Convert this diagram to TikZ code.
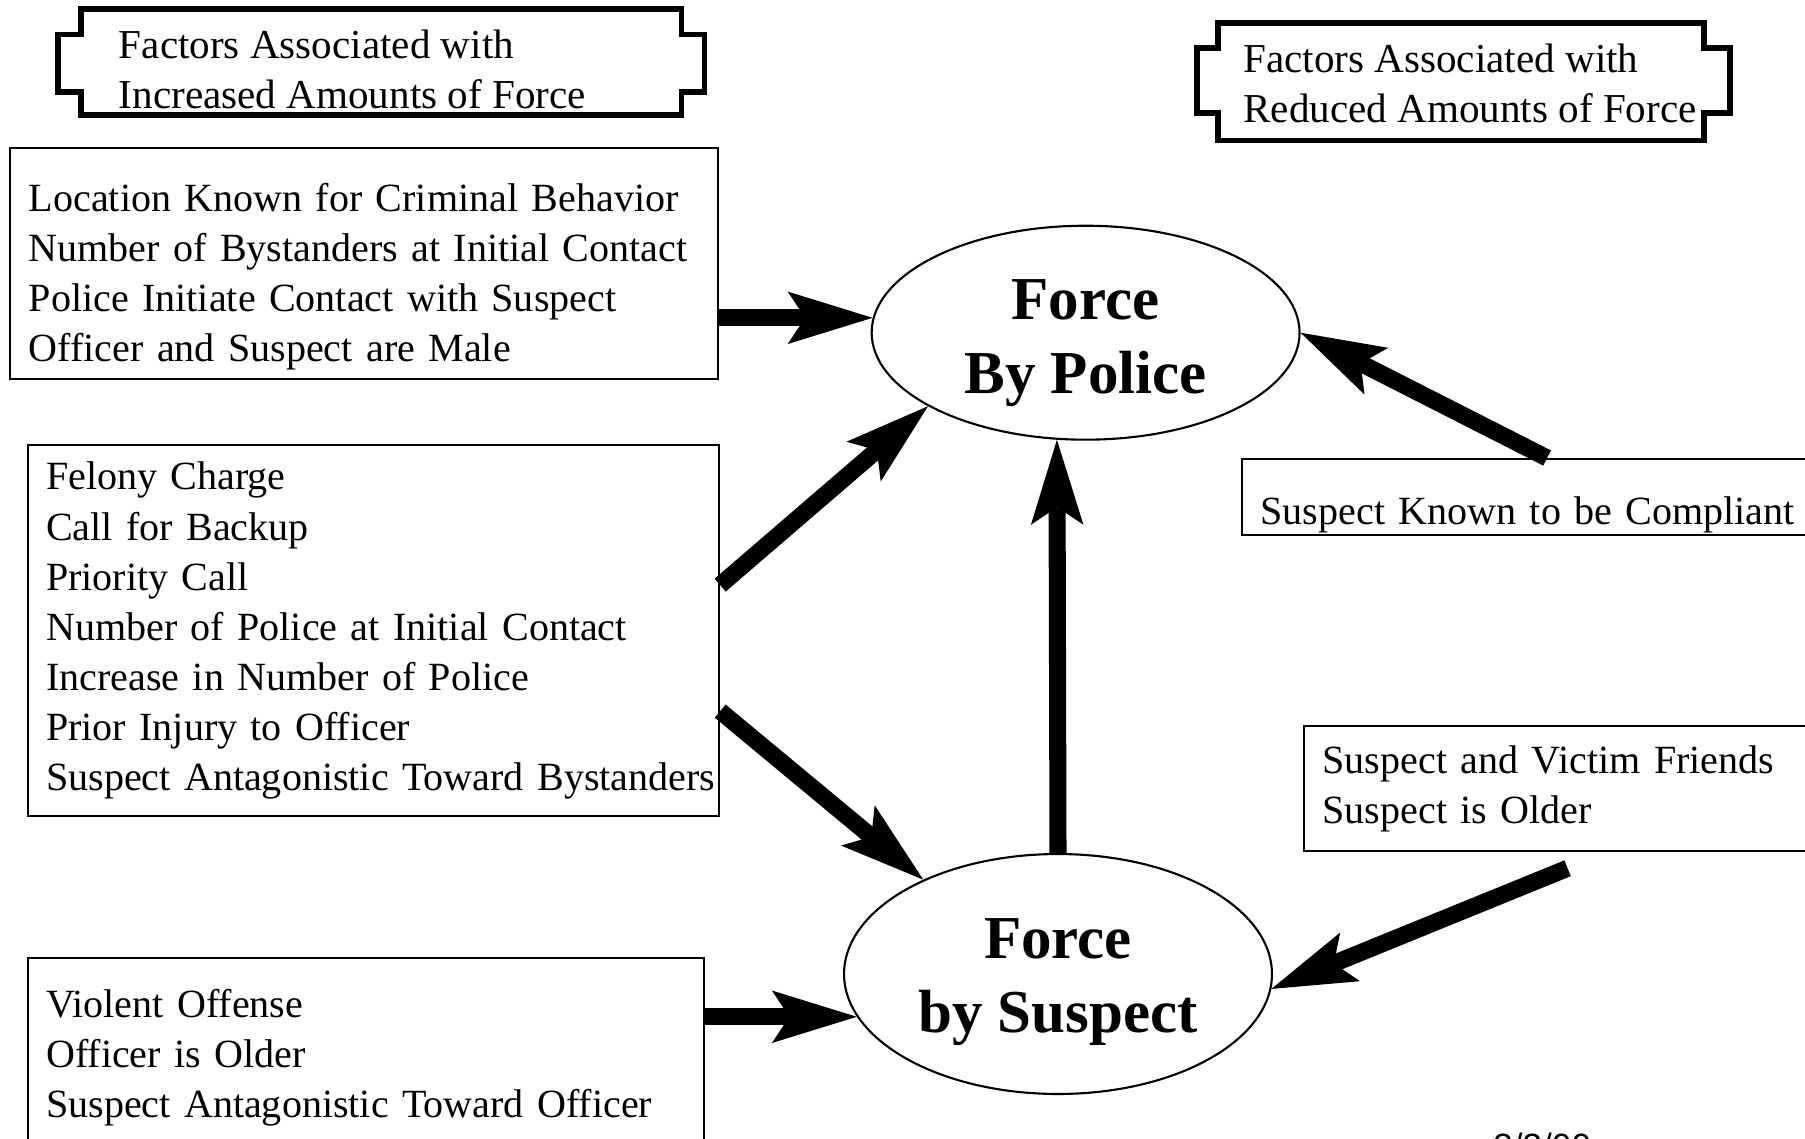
\documentclass[tikz,border=0pt]{standalone}
\usepackage{fontspec}
\setmainfont{Liberation Serif}
\newfontfamily\datefont{Liberation Sans}
\usetikzlibrary{arrows.meta, positioning, shapes.geometric}

\begin{document}
\begin{tikzpicture}[
  x=0.02cm, y=-0.02cm,
  factor/.style={rectangle, draw, line width=1.3pt, anchor=north west, align=left, inner xsep=0.37cm, font=\fontsize{22.8}{28.5}\selectfont},
  heading/.style={anchor=north west, align=left, inner sep=0pt, font=\fontsize{23.4}{28.8}\selectfont},
  frame/.style={line width=3.4pt, line join=miter},
  force/.style={ellipse, draw, line width=1.2pt, inner sep=0pt, minimum width=8.56cm},
  forcetext/.style={align=center, inner sep=0pt, font=\fontsize{34.7}{42}\selectfont\bfseries},
  arr/.style={-{Stealth[length=1.7cm, width=1.05cm, inset=0.35cm, line width=0pt]}, line width=9.7pt}
]
  \useasboundingbox (0,0) rectangle (1805,1139);

  % heading frames
  \draw[frame] (80.6,9.2) -- (681.5,9.2) -- (681.5,34.5) -- (704.5,34.5) -- (704.5,92) -- (681.5,92)
    -- (681.5,115) -- (80.6,115) -- (80.6,92) -- (57.6,92) -- (57.6,34.5) -- (80.6,34.5) -- cycle;
  \draw[frame] (1218,23) -- (1704,23) -- (1704,48.4) -- (1730,48.4) -- (1730,112.8) -- (1704,112.8)
    -- (1704,140.5) -- (1218,140.5) -- (1218,112.8) -- (1197,112.8) -- (1197,48.4) -- (1218,48.4) -- cycle;
  \node[heading] (incr) at (118.6,29.5) {Factors Associated with\\Increased Amounts of Force};
  \node[heading] (redu) at (1243,43.5) {Factors Associated with\\Reduced Amounts of Force};

  % outcomes
  \node[force, minimum height=4.28cm] (police) at (1085.6,332.7) {};
  \node[forcetext] (policetext) at ([yshift=-0.21cm]police.center) {Force\\By Police};
  \node[force, minimum height=4.8cm] (suspect) at (1058,974) {};
  \node[forcetext] (suspecttext) at ([yshift=-0.16cm]suspect.center) {Force\\by Suspect};

  % factor boxes
  \node[factor, text width=13.42cm, minimum height=4.62cm, inner ysep=0pt] (b1) at (9.2,147)
    {\rule{0pt}{1.1cm}Location Known for Criminal Behavior\\\mbox{Number of Bystanders at Initial Contact}\\Police Initiate Contact with Suspect\\Officer and Suspect are Male};
  \node[factor, text width=13.09cm, minimum height=7.42cm] (b2) at (26.5,444)
    {Felony Charge\\Call for Backup\\Priority Call\\Number of Police at Initial Contact\\Increase in Number of Police\\Prior Injury to Officer\\\mbox{Suspect Antagonistic Toward Bystanders}};
  \node[factor, text width=12.79cm, minimum height=4cm] (b3) at (26.5,957)
    {Violent Offense\\Officer is Older\\Suspect Antagonistic Toward Officer};
  \node[factor, text width=11.04cm, inner ysep=0pt, text height=1.31cm, text depth=0.21cm] (r1) at (1241,458)
    {Suspect Known to be Compliant};
  \node[factor, text width=9.8cm, minimum height=2.5cm] (r2) at (1303,725)
    {Suspect and Victim Friends\\Suspect is Older};

  \draw[arr] (b1.east |- police.176) -- (police.176);
  \draw[arr] ([yshift=0.91cm]b2.east) -- (police.205);
  \draw[arr] ([yshift=-1.61cm]b2.east) -- (suspect.145);
  \draw[arr] (b3.east |- suspect.192) -- (suspect.192);
  \draw[arr] (suspect.north) -- (police.255);
  \draw[arr] ([xshift=0.21cm]r1.north) -- (police.east);
  \draw[arr] ([yshift=-0.32cm]r2.south) -- (suspect.356);

  \node[anchor=north west, inner sep=0pt, font=\fontsize{20}{24}\datefont] (date) at (1493,1133) {3/3/00};
\end{tikzpicture}
\end{document}
